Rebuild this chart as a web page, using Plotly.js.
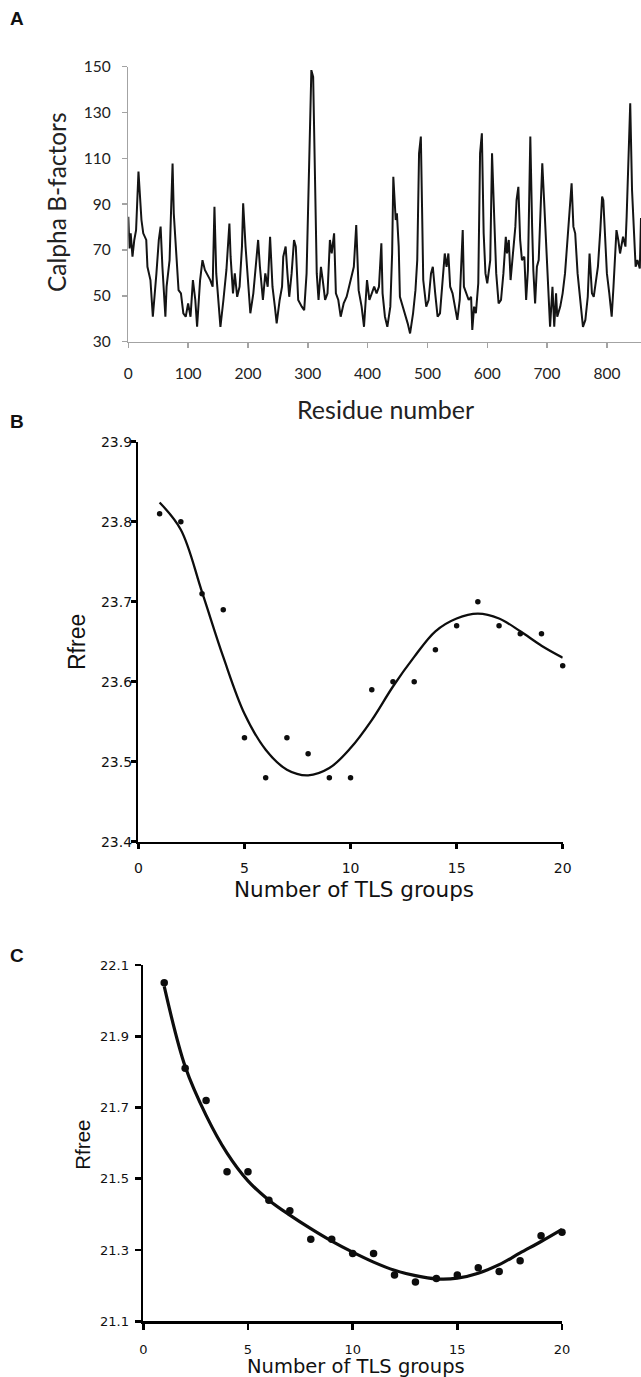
<!DOCTYPE html>
<html>
<head>
<meta charset="utf-8">
<script src="https://cdn.plot.ly/plotly-3.0.1.min.js"></script>
<style>
html,body{margin:0;padding:0;background:#ffffff;}
#chart{width:641px;height:1377px;}
</style>
</head>
<body>
<div id="chart"></div>
<script>
// ---------- Panel A data: Calpha B-factors vs residue number ----------
const residueA = [0,2,4,7,10,13,17,20,22,25,30,32,35,37,41,44,47,51,54,57,62,64,69,71,74,76,80,84,88,92,96,100,104,108,112,115,120,124,128,131,137,141,144,147,151,154,159,164,169,171,175,178,182,186,190,192,196,199,204,209,214,217,220,225,229,233,237,241,245,248,253,257,259,263,266,269,273,277,280,284,290,294,298,302,304,306,309,312,315,318,322,325,329,333,337,340,344,347,351,355,360,365,370,374,377,381,385,390,394,399,403,407,411,415,419,423,425,429,433,438,441,443,447,449,452,454,459,463,467,471,476,480,483,486,489,491,493,498,502,506,509,513,517,521,526,529,532,535,538,542,546,550,554,556,559,561,565,569,573,575,578,581,585,588,591,594,597,600,605,608,612,615,619,623,627,631,633,636,639,643,647,649,652,655,658,662,665,668,672,675,677,680,683,686,690,692,695,699,702,705,709,712,715,717,722,726,730,734,738,741,744,747,751,755,760,764,768,771,775,778,782,785,789,792,794,797,800,804,808,811,816,819,822,827,831,833,836,839,842,845,848,851,855,857];
const bfactorA = [84.5,70.7,77.3,67.1,74.4,78.7,104.2,93.3,83.1,77.3,74.4,62.7,59.8,56.9,40.9,52.5,59.8,74.4,80.2,62.7,40.9,54.0,65.6,83.1,107.8,86.0,67.1,52.5,51.1,42.4,40.9,46.7,40.9,56.9,48.2,36.5,56.9,65.6,61.3,59.8,56.9,54.0,88.9,59.8,46.7,36.5,48.2,61.3,81.6,67.1,51.1,59.8,49.6,54.0,71.5,90.4,71.5,59.8,42.4,51.1,65.6,74.4,62.7,48.2,59.8,54.0,75.8,54.0,45.3,38.0,48.2,54.0,67.1,71.5,59.8,49.6,59.8,74.4,71.5,48.2,45.3,43.8,59.8,109.3,120.9,148.5,145.6,96.2,59.8,48.2,62.7,56.9,48.2,51.1,74.4,68.5,77.3,51.1,48.2,40.9,46.7,49.6,55.5,59.8,62.7,80.9,52.5,45.3,36.5,56.9,48.2,51.1,54.0,51.1,54.0,72.9,51.1,40.9,36.5,45.3,68.5,102.0,83.1,86.0,71.5,49.6,45.3,42.4,38.0,33.6,42.4,52.5,65.6,112.2,119.5,88.9,56.9,45.3,48.2,59.8,62.7,51.1,40.9,42.4,56.9,68.5,62.7,68.5,54.0,51.1,45.3,39.5,48.2,59.8,78.7,54.0,51.1,48.2,49.6,35.1,45.3,42.4,55.5,112.2,120.9,77.3,59.8,55.5,65.6,112.2,81.6,59.8,46.7,48.2,59.8,75.8,68.5,74.4,56.9,68.5,80.2,91.8,97.6,74.4,65.6,67.1,48.2,61.3,119.5,80.2,61.3,46.7,62.7,65.6,94.7,107.8,91.8,68.5,49.6,36.5,54.0,36.5,51.1,40.9,45.3,51.1,59.8,74.4,86.0,99.1,80.2,77.3,59.8,49.6,36.5,39.5,49.6,68.5,51.1,49.6,56.9,62.7,78.7,93.3,91.8,74.4,59.8,51.1,40.9,54.0,78.7,74.4,68.5,75.8,71.5,84.5,109.3,134.0,96.2,75.8,62.7,65.6,62.0,84.0];
const ticksAx = [0,100,200,300,400,500,600,700,800];
const ticksAy = [30,50,70,90,110,130,150];

// ---------- Panel B data ----------
const tlsGroups = [1,2,3,4,5,6,7,8,9,10,11,12,13,14,15,16,17,18,19,20];
const rfreeB = [23.81,23.80,23.71,23.69,23.53,23.48,23.53,23.51,23.48,23.48,23.59,23.60,23.60,23.64,23.67,23.70,23.67,23.66,23.66,23.62];
const fitB   = [23.824,23.790,23.712,23.631,23.560,23.515,23.490,23.483,23.492,23.517,23.552,23.594,23.631,23.663,23.679,23.685,23.679,23.663,23.645,23.630];
const ticksB_y = [23.4,23.5,23.6,23.7,23.8,23.9];
const ticksTLS = [0,5,10,15,20];

// ---------- Panel C data ----------
const rfreeC = [22.05,21.81,21.72,21.52,21.52,21.44,21.41,21.33,21.33,21.29,21.29,21.23,21.21,21.22,21.23,21.25,21.24,21.27,21.34,21.35];
const fitC   = [22.040,21.815,21.678,21.572,21.494,21.440,21.398,21.360,21.325,21.294,21.266,21.243,21.228,21.219,21.221,21.235,21.259,21.292,21.324,21.358];
const ticksC_y = [21.1,21.3,21.5,21.7,21.9,22.1];

// ---------- geometry helpers (pixel -> paper) ----------
const W = 641, H = 1377;
const px = x => x / W;
const py = y => 1 - y / H;

const ink = '#0d0d0d';
const greyAxis = '#a3a3a3';

const traces = [
  {x: residueA, y: bfactorA, xaxis: 'x', yaxis: 'y', mode: 'lines',
   line: {color: '#141414', width: 2.0}, hoverinfo: 'skip', showlegend: false},
  {x: tlsGroups, y: fitB, xaxis: 'x2', yaxis: 'y2', mode: 'lines',
   line: {color: ink, width: 2.3, shape: 'spline', smoothing: 1}, showlegend: false, cliponaxis: false},
  {x: tlsGroups, y: rfreeB, xaxis: 'x2', yaxis: 'y2', mode: 'markers',
   marker: {color: ink, size: 5.5}, showlegend: false, cliponaxis: false},
  {x: tlsGroups, y: fitC, xaxis: 'x3', yaxis: 'y3', mode: 'lines',
   line: {color: ink, width: 3.2, shape: 'spline', smoothing: 1}, showlegend: false, cliponaxis: false},
  {x: tlsGroups, y: rfreeC, xaxis: 'x3', yaxis: 'y3', mode: 'markers',
   marker: {color: ink, size: 7.5}, showlegend: false, cliponaxis: false}
];

const fontA = {family: 'Lato, "Open Sans", sans-serif', size: 15.5, color: '#222'};
const fontB = {family: '"DejaVu Sans", Verdana, sans-serif', size: 14, color: '#111'};
const fontC = {family: '"DejaVu Sans", Verdana, sans-serif', size: 13, color: '#111'};

const baseAxis = {showgrid: false, zeroline: false, showline: true, ticks: 'outside',
                  automargin: false, fixedrange: true, tickmode: 'array'};

const layout = {
  width: W, height: H,
  margin: {l: 0, r: 0, t: 0, b: 0, pad: 0},
  paper_bgcolor: '#ffffff', plot_bgcolor: '#ffffff',
  showlegend: false,
  xaxis: Object.assign({}, baseAxis, {
    domain: [px(128.3), 1], range: [0, 857], anchor: 'y',
    tickvals: ticksAx, linecolor: greyAxis, linewidth: 1.5,
    tickcolor: greyAxis, tickwidth: 1.5, ticklen: 5,
    tickfont: fontA, ticklabelstandoff: 12
  }),
  yaxis: Object.assign({}, baseAxis, {
    domain: [py(341.7), py(66.7)], range: [30, 150], anchor: 'x',
    tickvals: ticksAy, linecolor: greyAxis, linewidth: 1.5,
    tickcolor: greyAxis, tickwidth: 1.5, ticklen: 5,
    tickfont: fontA, ticklabelstandoff: 8
  }),
  xaxis2: Object.assign({}, baseAxis, {
    domain: [px(138.4), px(562.7)], range: [0, 20], anchor: 'y2',
    tickvals: ticksTLS, linecolor: '#000', linewidth: 2.5,
    tickcolor: '#000', tickwidth: 2.5, ticklen: 5,
    tickfont: fontB, ticklabelstandoff: 7
  }),
  yaxis2: Object.assign({}, baseAxis, {
    domain: [py(841.7), py(441.7)], range: [23.4, 23.9], anchor: 'x2',
    tickvals: ticksB_y, tickformat: '.1f', linecolor: '#000', linewidth: 2.5,
    tickcolor: '#000', tickwidth: 2.5, ticklen: 5,
    tickfont: fontB, ticklabelstandoff: -4
  }),
  xaxis3: Object.assign({}, baseAxis, {
    domain: [px(143.3), px(562)], range: [0, 20], anchor: 'y3',
    tickvals: ticksTLS, linecolor: '#000', linewidth: 2.7,
    tickcolor: '#000', tickwidth: 2.7, ticklen: 6,
    tickfont: fontC, ticklabelstandoff: 8
  }),
  yaxis3: Object.assign({}, baseAxis, {
    domain: [py(1321.3), py(965)], range: [21.1, 22.1], anchor: 'x3',
    tickvals: ticksC_y, tickformat: '.1f', linecolor: '#000', linewidth: 2.7,
    tickcolor: '#000', tickwidth: 2.7, ticklen: 6,
    tickfont: fontC, ticklabelstandoff: 3
  }),
  annotations: [
    {text: '<b>A</b>', x: px(17), y: py(19), font: {family: '"Liberation Sans", Arial, sans-serif', size: 19, color: '#111'}},
    {text: '<b>B</b>', x: px(16.5), y: py(421.7), font: {family: '"Liberation Sans", Arial, sans-serif', size: 19, color: '#111'}},
    {text: '<b>C</b>', x: px(17), y: py(955), font: {family: '"Liberation Sans", Arial, sans-serif', size: 19, color: '#111'}},
    {text: 'Calpha B-factors', x: px(57), y: py(202), textangle: -90,
     font: {family: 'Lato, "Open Sans", sans-serif', size: 24.5, color: '#222'}},
    {text: 'Residue number', x: px(385), y: py(409),
     font: {family: 'Lato, "Open Sans", sans-serif', size: 25, color: '#222'}},
    {text: 'Rfree', x: px(77), y: py(642), textangle: -90,
     font: {family: '"Liberation Sans", Arial, sans-serif', size: 23, color: '#111'}},
    {text: 'Number of TLS groups', x: px(354), y: py(889),
     font: {family: '"DejaVu Sans", Verdana, sans-serif', size: 21.5, color: '#111'}},
    {text: 'Rfree', x: px(81.7), y: py(1145), textangle: -90,
     font: {family: '"Liberation Sans", Arial, sans-serif', size: 20.5, color: '#111'}},
    {text: 'Number of TLS groups', x: px(356), y: py(1366.5),
     font: {family: '"DejaVu Sans", Verdana, sans-serif', size: 19.5, color: '#111'}}
  ].map(a => Object.assign({xref: 'paper', yref: 'paper', showarrow: false,
                            xanchor: 'center', yanchor: 'middle'}, a))
};

Plotly.newPlot('chart', traces, layout, {displayModeBar: false, staticPlot: true});
</script>
</body>
</html>
